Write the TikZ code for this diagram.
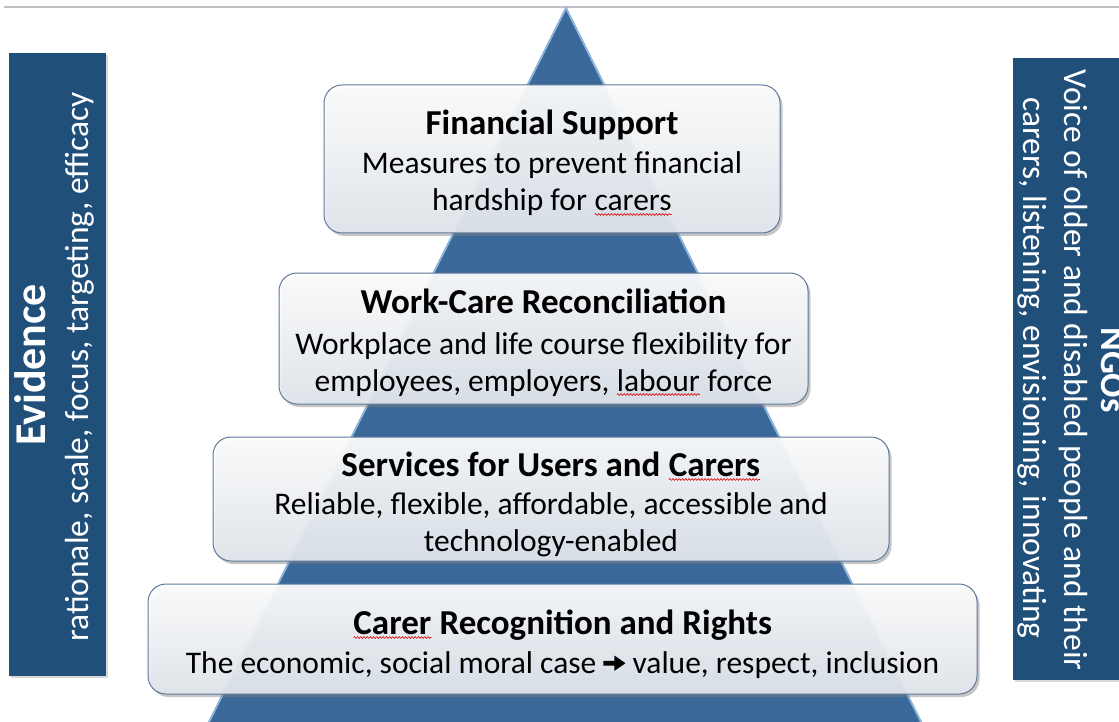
\documentclass[tikz,border=0pt]{standalone}
\usepackage{fontspec}
\setmainfont{Carlito}
\usetikzlibrary{shadows,decorations.pathmorphing}
\definecolor{barblue}{RGB}{32,79,122}
\definecolor{triblue}{RGB}{58,104,153}
\definecolor{triedge}{RGB}{140,178,215}
\definecolor{boxedge}{RGB}{95,120,155}
\definecolor{boxbot}{RGB}{226,231,238}
\definecolor{rulegray}{RGB}{190,192,198}
\newcommand\spell[1]{\tikz[baseline=(sw.base)]{\node[inner sep=0pt,outer sep=0pt,font={},anchor=base,text=black,draw=none,fill=none](sw){#1};\draw[red!85!black,line width=0.6pt,sharp corners,decorate,decoration={snake,amplitude=0.9pt,segment length=3.2pt}]([yshift=-3.5pt]sw.base west)--([yshift=-3.5pt]sw.base east);}}
\newcommand\heavyarrow{\tikz[baseline=0pt]{\fill[black,sharp corners] (0pt,7.4pt) -- (11pt,7.4pt) -- (11pt,2.2pt) -- (22pt,9.8pt) -- (11pt,17.4pt) -- (11pt,12.2pt) -- (0pt,12.2pt) -- cycle;}}
\begin{document}
\begin{tikzpicture}[x=1pt,y=-1pt,
  bar/.style={fill=barblue,draw=none,inner sep=0pt,drop shadow={shadow xshift=2pt,shadow yshift=-2pt,opacity=0.3}},
  tier/.style={draw=boxedge,line width=1pt,rounded corners=18pt,top color=white,bottom color=boxbot,fill opacity=0.92,inner sep=0pt,
    drop shadow={shadow xshift=2.5pt,shadow yshift=-3pt,opacity=0.45}},
  ttl/.style={anchor=base,inner sep=0pt,text=black,font=\fontsize{35}{40}\selectfont\bfseries},
  txt/.style={anchor=base,inner sep=0pt,text=black,font=\fontsize{31.5}{40}\selectfont},
  bartitle/.style={anchor=base,inner sep=0pt,text=white,font=\fontsize{44}{48}\selectfont\bfseries},
  ngotitle/.style={anchor=base,inner sep=0pt,text=white,font=\fontsize{36}{40}\selectfont\bfseries},
  barsub/.style={anchor=base,inner sep=0pt,text=white,font=\fontsize{33.5}{40}\selectfont}]
\useasboundingbox (0,0) rectangle (1119,722);
% top rule
\draw[rulegray,line width=1.2pt] (4,7) -- (1119,7);
% pyramid
\filldraw[fill=triblue,draw=triedge,line width=2pt] (566,8) -- (208,724) -- (922,724) -- cycle;
% side bars
\node[bar,minimum width=97pt,minimum height=623pt] (lbar) at (57.5,364.5) {};
\node[bar,minimum width=112pt,minimum height=622pt] (rbar) at (1069,369) {};
\node[bartitle,rotate=90] (evt) at (45,365) {Evidence};
\node[barsub,rotate=90] (evs) at (88,367) {rationale, scale, focus, targeting, efficacy};
\node[ngotitle,rotate=-90] (ngt) at (1101,370) {NGOs};
\node[barsub,rotate=-90] (ngs1) at (1064,370) {Voice of older and disabled people and their};
\node[barsub,rotate=-90] (ngs2) at (1023,368) {carers, listening, envisioning, innovating};
% tiers
\node[tier,minimum width=456pt,minimum height=148pt] (b1) at (552,159) {};
\node[tier,minimum width=529pt,minimum height=131pt] (b2) at (543.5,338.5) {};
\node[tier,minimum width=676pt,minimum height=124pt] (b3) at (551,499) {};
\node[tier,minimum width=829pt,minimum height=110pt] (b4) at (562.5,639) {};
% tier texts
\node[ttl] (t1a) at (552,134.5) {Financial Support};
\node[txt] (t1b) at (552,174) {Measures to prevent financial};
\node[txt] (t1c) at (552,211) {hardship for \spell{carers}};
\node[ttl] (t2a) at (543.5,313) {Work-Care Reconciliation};
\node[txt] (t2b) at (543.5,354) {Workplace and life course flexibility for};
\node[txt] (t2c) at (543.5,391) {employees, employers, \spell{labour} force};
\node[ttl] (t3a) at (551,476) {Services for Users and \spell{Carers}};
\node[txt] (t3b) at (551,514) {Reliable, flexible, affordable, accessible and};
\node[txt] (t3c) at (551,551) {technology-enabled};
\node[ttl] (t4a) at (562.5,634) {\spell{Carer} Recognition and Rights};
\node[txt] (t4b) at (562.5,673) {The economic, social moral case \heavyarrow{} value, respect, inclusion};
\end{tikzpicture}
\end{document}
